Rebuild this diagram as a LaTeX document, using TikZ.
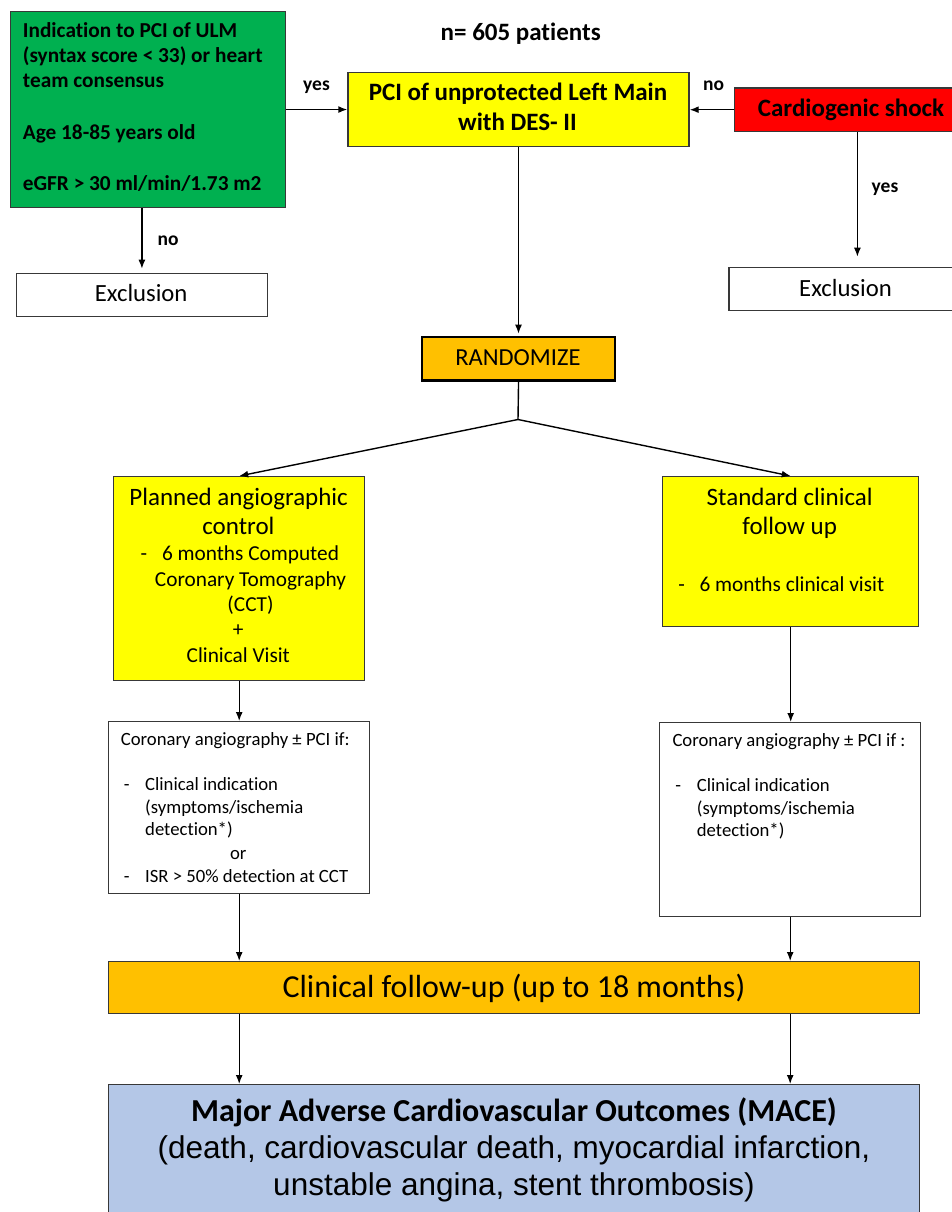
\documentclass[tikz,border=0pt]{standalone}
\usepackage{fontspec}
\setmainfont{Carlito}[RawFeature={-liga;-clig;-calt;-dlig}]
\newfontfamily\arialf{Liberation Sans}
\usetikzlibrary{arrows.meta}
\definecolor{cgreen}{HTML}{00B050}
\definecolor{cyellow}{HTML}{FFFF00}
\definecolor{cred}{HTML}{FF0000}
\definecolor{corange}{HTML}{FFC000}
\definecolor{cblue}{HTML}{B4C7E7}
\newcommand\fsz[1]{\fontsize{#1}{#1}\selectfont}
\begin{document}
\begin{tikzpicture}[x=1pt,y=-1pt,
  box/.style={draw=black!78, line width=1.4pt, inner sep=0pt, anchor=north west},
  arr/.style={draw=black, line width=1.4pt, -{Latex[length=9pt,width=7pt]}},
  lbl/.style={inner sep=0pt, anchor=base},
  lblw/.style={inner sep=0pt, anchor=base west},
  hb/.style={font=\bfseries\fsz{25}},
  gt/.style={font=\bfseries\fsz{21.3}},
  yn/.style={font=\bfseries\fsz{19.5}},
  big/.style={font=\fsz{25}},
  mid/.style={font=\fsz{21.3}},
  sml/.style={font=\fsz{18.7}}]
\useasboundingbox (0,0) rectangle (952,1212);
\clip (0,0) rectangle (952,1212);
\fill[white] (0,0) rectangle (952,1212);

% boxes
\node[box, fill=cgreen, minimum width=275pt, minimum height=195.7pt] (green) at (10,11) {};
\node[box, fill=cyellow, minimum width=341pt, minimum height=74pt] (pci) at (347.3,71.7) {};
\node[box, fill=cred, minimum width=245.4pt, minimum height=43.4pt] (red) at (734,87.3) {};
\node[box, minimum width=251pt, minimum height=43.3pt] (excl1) at (15.7,272.7) {};
\node[box, minimum width=256.8pt, minimum height=43.3pt] (excl2) at (728.3,266.7) {};
\node[box, fill=corange, line width=2.4pt, draw=black, minimum width=193.3pt, minimum height=43.6pt] (rand) at (420.7,335.7) {};
\node[box, fill=cyellow, minimum width=251pt, minimum height=204pt] (ly) at (113,476) {};
\node[box, fill=cyellow, minimum width=256pt, minimum height=150pt] (ry) at (662,476) {};
\node[box, minimum width=261pt, minimum height=172pt] (lw) at (108,721) {};
\node[box, minimum width=261pt, minimum height=194pt] (rw) at (659,722) {};
\node[box, fill=corange, minimum width=811pt, minimum height=52pt] (clin) at (108,961) {};
\node[box, fill=cblue, minimum width=811pt, minimum height=160pt] (mace) at (108,1084) {};

% connectors
\draw[arr] (green.east) -- (green.east -| pci.west);
\draw[arr] (red.west) -- (red.west -| pci.east);
\draw[arr, shorten >=4pt] (green.south -| excl1.north) -- (excl1.north);
\draw[arr, shorten >=10pt] (red.south) -- (red.south |- excl2.north);
\draw[arr, shorten >=2pt] (pci.south) -- (pci.south |- rand.north);
\coordinate (split) at (518,419.5);
\draw[line width=1.4pt] (rand.south) -- (split);
\draw[arr] (split) -- (ly.north);
\draw[arr] (split) -- (ry.north);
\draw[arr] (ly.south) -- (ly.south |- lw.north);
\draw[arr] (ry.south) -- (ry.south |- rw.north);
\draw[arr] (lw.south) -- (lw.south |- clin.north);
\draw[arr] (rw.south) -- (rw.south |- clin.north);
\draw[arr] (clin.south -| lw.south) -- (mace.north -| lw.south);
\draw[arr] (clin.south -| rw.south) -- (mace.north -| rw.south);

% top texts
\node[lblw, gt] (g1) at (22.7,37.5) {Indication to PCI of ULM};
\node[lblw, gt] (g2) at (22.7,63) {(syntax score < 33) or heart};
\node[lblw, gt] (g3) at (22.7,88) {team consensus};
\node[lblw, gt] (g4) at (22.7,139.5) {Age 18-85 years old};
\node[lblw, gt] (g5) at (22.7,190.7) {eGFR > 30 ml/min/1.73 m2};
\node[lbl, hb] (npat) at (520.7,41) {n= 605 patients};
\node[lbl, hb] (p1) at (518,100.7) {PCI of unprotected Left Main};
\node[lbl, hb] (p2) at (517.5,130.7) {with DES- II};
\node[lbl, yn] (yes1) at (316.5,90.7) {yes};
\node[lbl, yn] (no1) at (713.5,90.7) {no};
\node[lbl, hb] (cs) at (851,116.7) {Cardiogenic shock};
\node[lbl, yn] (no2) at (168,245.7) {no};
\node[lbl, yn] (yes2) at (885,192.7) {yes};
\node[lbl, font=\fsz{24.7}] (ex1) at (141.2,301.7) {Exclusion};
\node[lbl, font=\fsz{24.7}] (ex2) at (845.5,296) {Exclusion};
\node[lbl, font=\fsz{24.5}] (rt) at (517.9,365) {RANDOMIZE};

% left yellow
\node[lbl, big] (ly1) at (238.6,505) {Planned angiographic};
\node[lbl, big] (ly2) at (238.4,534) {control};
\node[lbl, mid] (ly3d) at (144,560.7) {-};
\node[lbl, mid] (ly3) at (250.5,560.7) {6 months Computed};
\node[lbl, mid] (ly4) at (250.5,586.7) {Coronary Tomography};
\node[lbl, mid] (ly5) at (250.5,611.7) {(CCT)};
\node[lbl, mid] (ly6) at (238.3,636.7) {+};
\node[lbl, mid] (ly7) at (238.3,662.7) {Clinical Visit};

% right yellow
\node[lbl, big] (ry1) at (789.7,505.7) {Standard clinical};
\node[lbl, big] (ry2) at (789.7,534.5) {follow up};
\node[lbl, mid] (ry3d) at (681.7,591.7) {-};
\node[lblw, mid] (ry3) at (699.3,591.7) {6 months clinical visit};

% left white
\node[lblw, sml] (lw1) at (120.7,745) {Coronary angiography ± PCI if:};
\node[lbl, sml] (lw2d) at (126.7,790.7) {-};
\node[lblw, sml] (lw2) at (145,790.7) {Clinical indication};
\node[lblw, sml] (lw3) at (145,813.3) {(symptoms/ischemia};
\node[lblw, sml] (lw4) at (145,835.7) {detection*)};
\node[lbl, sml] (lw5) at (238.3,859) {or};
\node[lbl, sml] (lw6d) at (126.7,882.3) {-};
\node[lblw, sml] (lw6) at (145,882.3) {ISR > 50\% detection at CCT};

% right white
\node[lblw, sml] (rw1) at (672.3,746) {Coronary angiography ± PCI if :};
\node[lbl, sml] (rw2d) at (678.3,791.7) {-};
\node[lblw, sml] (rw2) at (696.7,791.7) {Clinical indication};
\node[lblw, sml] (rw3) at (696.7,814) {(symptoms/ischemia};
\node[lblw, sml] (rw4) at (696.7,836.7) {detection*)};

% bottom
\node[lbl, font=\fsz{32}] (ct) at (514,997.3) {Clinical follow-up (up to 18 months)};
\node[lbl, font=\bfseries\fsz{32}] (m1) at (514,1121) {Major Adverse Cardiovascular Outcomes (MACE)};
\node[lbl, font=\arialf\fsz{31.5}] (m2) at (514,1158) {(death, cardiovascular death, myocardial infarction,};
\node[lbl, font=\arialf\fsz{31.5}] (m3) at (514,1195) {unstable angina, stent thrombosis)};
\end{tikzpicture}
\end{document}
